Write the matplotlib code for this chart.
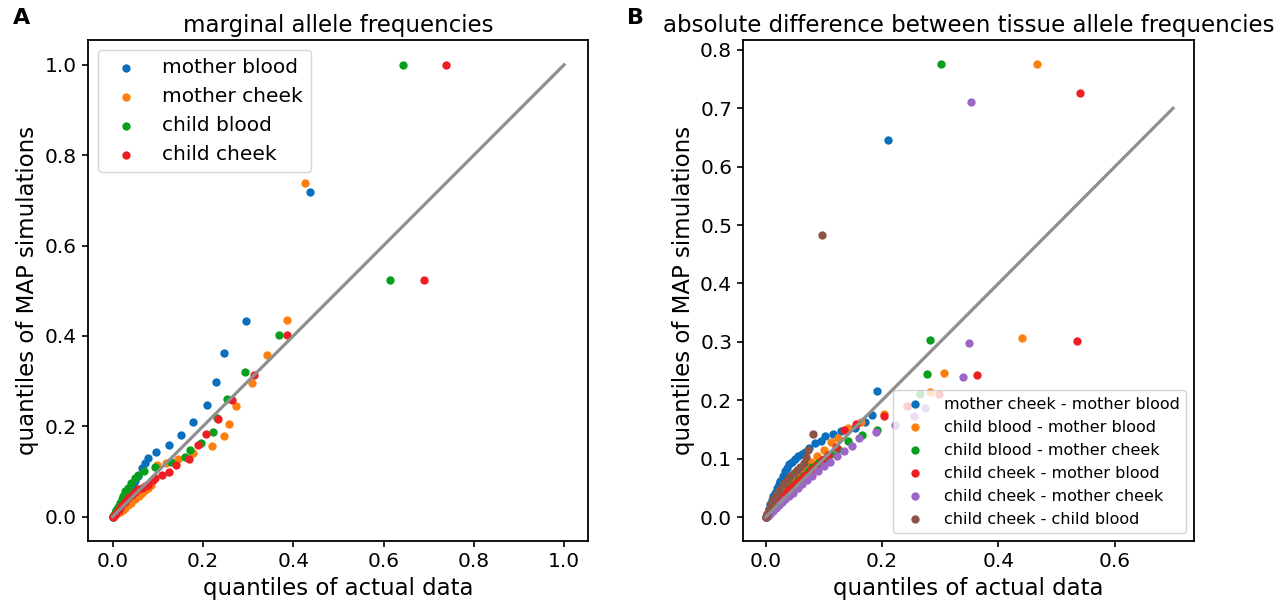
import matplotlib
matplotlib.use("Agg")
import matplotlib.pyplot as plt

# panel A: marginal allele frequency quantiles (x = actual data, y = MAP simulations)
marg_labels = ["mother blood", "mother cheek", "child blood", "child cheek"]
marg_colors = ["#0a6fbd", "#ff7f0e", "#07a01c", "#ee1f24"]

mb_x = [0, 0.004, 0.008, 0.012, 0.016, 0.02, 0.025, 0.03, 0.035, 0.04, 0.045, 0.05, 0.056,
        0.064, 0.071, 0.078, 0.095, 0.124, 0.152, 0.177, 0.208, 0.228, 0.247, 0.295, 0.437]
mb_y = [0, 0.006, 0.012, 0.018, 0.025, 0.032, 0.04, 0.047, 0.055, 0.062, 0.07, 0.078, 0.09,
        0.108, 0.119, 0.130, 0.142, 0.159, 0.181, 0.209, 0.247, 0.299, 0.361, 0.434, 0.719]

mc_x = [0, 0.005, 0.01, 0.016, 0.022, 0.027, 0.034, 0.041, 0.049, 0.057, 0.064, 0.071, 0.078,
        0.085, 0.097, 0.118, 0.145, 0.178, 0.220, 0.247, 0.257, 0.272, 0.309, 0.341, 0.386, 0.426]
mc_y = [0, 0.003, 0.007, 0.011, 0.015, 0.019, 0.025, 0.031, 0.038, 0.045, 0.052, 0.058, 0.063,
        0.071, 0.115, 0.118, 0.128, 0.141, 0.157, 0.179, 0.206, 0.244, 0.296, 0.357, 0.436, 0.738]

cb_x = [0, 0.001, 0.004, 0.008, 0.012, 0.016, 0.02, 0.023, 0.028, 0.034, 0.041, 0.049, 0.056,
        0.069, 0.093, 0.128, 0.159, 0.171, 0.196, 0.222, 0.230, 0.253, 0.292, 0.369, 0.614, 0.642]
cb_y = [0, 0.002, 0.008, 0.015, 0.022, 0.030, 0.038, 0.045, 0.056, 0.063, 0.074, 0.086, 0.093,
        0.100, 0.109, 0.120, 0.132, 0.147, 0.163, 0.187, 0.219, 0.261, 0.319, 0.402, 0.524, 1.0]

cc_x = [0, 0.004, 0.008, 0.013, 0.019, 0.026, 0.034, 0.042, 0.049, 0.056, 0.064, 0.071, 0.078,
        0.088, 0.093, 0.108, 0.125, 0.140, 0.169, 0.188, 0.206, 0.233, 0.264, 0.312, 0.386, 0.690, 0.739]
cc_y = [0, 0.004, 0.009, 0.015, 0.023, 0.032, 0.041, 0.048, 0.054, 0.060, 0.064, 0.068, 0.071,
        0.082, 0.085, 0.091, 0.098, 0.115, 0.128, 0.159, 0.182, 0.215, 0.257, 0.314, 0.401, 0.524, 1.0]

# panel B: absolute difference between tissues
diff_labels = ["mother cheek - mother blood", "child blood - mother blood",
               "child blood - mother cheek", "child cheek - mother blood",
               "child cheek - mother cheek", "child cheek - child blood"]
diff_colors = ["#0a6fbd", "#ff7f0e", "#07a01c", "#ee1f24", "#9c66c6", "#8c5446"]

d1_x = [0, 0.002, 0.005, 0.008, 0.011, 0.013, 0.016, 0.019, 0.022, 0.025, 0.029, 0.033, 0.036,
        0.040, 0.045, 0.050, 0.056, 0.062, 0.068, 0.075, 0.085, 0.095, 0.102, 0.115, 0.130,
        0.153, 0.170, 0.183, 0.192, 0.2105]
d1_y = [0, 0.006, 0.014, 0.022, 0.030, 0.036, 0.042, 0.050, 0.056, 0.062, 0.070, 0.078, 0.084,
        0.090, 0.095, 0.100, 0.104, 0.108, 0.112, 0.118, 0.126, 0.131, 0.138, 0.142, 0.147,
        0.152, 0.163, 0.175, 0.216, 0.646]

d2_x = [0, 0.003, 0.006, 0.01, 0.014, 0.018, 0.022, 0.027, 0.032, 0.037, 0.042, 0.048, 0.055,
        0.062, 0.07, 0.078, 0.088, 0.1, 0.113, 0.125, 0.142, 0.164, 0.204, 0.245, 0.282, 0.307,
        0.440, 0.466]
d2_y = [0, 0.005, 0.011, 0.018, 0.024, 0.030, 0.036, 0.042, 0.048, 0.054, 0.060, 0.066, 0.073,
        0.080, 0.088, 0.095, 0.105, 0.115, 0.128, 0.136, 0.152, 0.163, 0.177, 0.190, 0.214, 0.247,
        0.306, 0.775]

d3_x = [0, 0.003, 0.007, 0.011, 0.015, 0.02, 0.025, 0.03, 0.036, 0.042, 0.049, 0.056, 0.064,
        0.072, 0.08, 0.09, 0.1, 0.112, 0.125, 0.142, 0.165, 0.191, 0.265, 0.277, 0.2825, 0.302]
d3_y = [0, 0.004, 0.009, 0.014, 0.019, 0.025, 0.031, 0.037, 0.043, 0.05, 0.057, 0.064, 0.071,
        0.078, 0.085, 0.093, 0.1, 0.108, 0.117, 0.131, 0.140, 0.149, 0.211, 0.245, 0.303, 0.775]

d4_x = [0, 0.003, 0.006, 0.01, 0.014, 0.018, 0.023, 0.028, 0.033, 0.039, 0.045, 0.052, 0.06,
        0.068, 0.077, 0.086, 0.096, 0.107, 0.12, 0.135, 0.156, 0.203, 0.242, 0.297, 0.363, 0.535, 0.540]
d4_y = [0, 0.004, 0.008, 0.013, 0.018, 0.023, 0.029, 0.034, 0.040, 0.046, 0.052, 0.058, 0.065,
        0.072, 0.08, 0.088, 0.097, 0.107, 0.12, 0.149, 0.160, 0.173, 0.191, 0.211, 0.244, 0.301, 0.727]

d5_x = [0, 0.004, 0.008, 0.012, 0.017, 0.022, 0.028, 0.034, 0.04, 0.047, 0.055, 0.063, 0.071,
        0.08, 0.09, 0.1, 0.11, 0.122, 0.135, 0.148, 0.16, 0.189, 0.222, 0.255, 0.274, 0.339, 0.350, 0.353]
d5_y = [0, 0.002, 0.006, 0.01, 0.015, 0.02, 0.025, 0.031, 0.036, 0.042, 0.049, 0.056, 0.063,
        0.071, 0.079, 0.087, 0.095, 0.104, 0.113, 0.122, 0.136, 0.146, 0.158, 0.173, 0.186, 0.240, 0.298, 0.711]

d6_x = [0, 0.002, 0.005, 0.009, 0.013, 0.018, 0.023, 0.03, 0.036, 0.042, 0.048, 0.053, 0.059,
        0.065, 0.069, 0.073, 0.082, 0.096]
d6_y = [0, 0.006, 0.013, 0.022, 0.031, 0.038, 0.046, 0.057, 0.064, 0.070, 0.075, 0.080, 0.086,
        0.092, 0.102, 0.114, 0.142, 0.483]

marg_x = [mb_x, mc_x, cb_x, cc_x]
marg_y = [mb_y, mc_y, cb_y, cc_y]
diff_x = [d1_x, d2_x, d3_x, d4_x, d5_x, d6_x]
diff_y = [d1_y, d2_y, d3_y, d4_y, d5_y, d6_y]

fig = plt.figure(figsize=(12.88, 6.11), dpi=100)
ax1 = fig.add_axes([0.0683, 0.1146, 0.3882, 0.820])
ax2 = fig.add_axes([0.5771, 0.1146, 0.3499, 0.820])

for xs, ys, lab, col in zip(marg_x, marg_y, marg_labels, marg_colors):
    ax1.scatter(xs, ys, s=36, color=col, label=lab, linewidths=0)
ax1.plot([0, 1], [0, 1], color="#8f8f8f", lw=2.3)
ax1.set_xlim(-0.055, 1.053)
ax1.set_ylim(-0.054, 1.055)
ax1.set_xticks([0, 0.2, 0.4, 0.6, 0.8, 1.0])
ax1.set_yticks([0, 0.2, 0.4, 0.6, 0.8, 1.0])
ax1.set_title("marginal allele frequencies", fontsize=16.5)
ax1.set_xlabel("quantiles of actual data", fontsize=16.5)
ax1.set_ylabel("quantiles of MAP simulations", fontsize=16.5)
ax1.legend(loc="upper left", fontsize=14.5)

for xs, ys, lab, col in zip(diff_x, diff_y, diff_labels, diff_colors):
    ax2.scatter(xs, ys, s=36, color=col, label=lab, linewidths=0)
ax2.plot([0, 0.7], [0, 0.7], color="#8f8f8f", lw=2.3)
ax2.set_xlim(-0.0385, 0.736)
ax2.set_ylim(-0.041, 0.817)
ax2.set_xticks([0, 0.2, 0.4, 0.6])
ax2.set_yticks([0, 0.1, 0.2, 0.3, 0.4, 0.5, 0.6, 0.7, 0.8])
ax2.set_title("absolute difference between tissue allele frequencies", fontsize=16.5)
ax2.set_xlabel("quantiles of actual data", fontsize=16.5)
ax2.set_ylabel("quantiles of MAP simulations", fontsize=16.5)
ax2.legend(loc="lower right", fontsize=11.5)

for ax in (ax1, ax2):
    ax.tick_params(labelsize=14.5, width=1.2, length=4.5)
    for sp in ax.spines.values():
        sp.set_linewidth(1.3)

fig.text(0.01, 0.97, "A", fontsize=16, fontweight="bold", va="center")
fig.text(0.487, 0.97, "B", fontsize=16, fontweight="bold", va="center")

fig.savefig("out.png", dpi=100)
